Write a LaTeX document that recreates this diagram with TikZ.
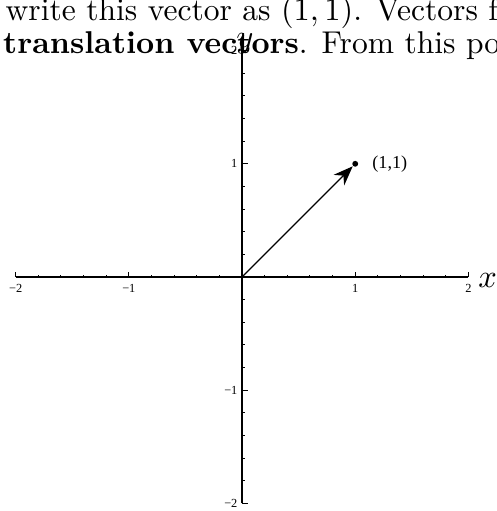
\documentclass[tikz,border=0pt]{standalone}
\usepackage{fontspec}
\newfontfamily\plotfont{Liberation Serif}
\usetikzlibrary{positioning,arrows.meta}

\begin{document}
\begin{tikzpicture}[
    x=1.224cm, y=1.224cm,
    axis/.style={line width=0.35pt},
    tick/.style={line width=0.3pt},
    ticklabel/.style={font=\plotfont\fontsize{3.8}{4}\selectfont, inner sep=0pt},
    axislabel/.style={inner sep=0pt},
    pagetext/.style={anchor=base west, inner sep=0pt, font=\fontsize{9.7}{11}\selectfont},
    vec/.style={line width=0.35pt, -{Stealth[length=6pt,width=4.6pt]}},
    dot/.style={circle, fill, inner sep=0pt, minimum size=1.8pt}
]
\useasboundingbox (-2.138,-2.067) rectangle (2.244,2.447);
\clip (-2.138,-2.067) rectangle (2.244,2.447);
% page text above the plot
\node[pagetext] (line1) at (-2.094,2.27) {write this vector as $(1,1)$. Vectors f};
\node[pagetext] (line2) at (-2.115,1.975) {\textbf{translation vectors}. From this poi};
% axes
\coordinate (O) at (0,0);
\coordinate (xmin) at (-2,0);
\coordinate (xmax) at (2,0);
\coordinate (ymin) at (0,-2);
\coordinate (ymax) at (0,2);
\draw[axis] (xmin) -- (xmax);
\draw[axis] (ymin) -- (ymax);
\foreach \k in {-10,...,10} {
  \draw[tick] (\k/5,0) -- ++(0,0.022);
  \draw[tick] (0,\k/5) -- ++(0.025,0);
}
\foreach \k in {-2,-1,1,2} {
  \draw[tick] (\k,0) -- ++(0,0.045);
  \draw[tick] (0,\k) -- ++(0.05,0);
  \node[ticklabel, anchor=north] (xl\k) at (\k,-0.06) {\ifnum\k<0 −\fi\the\numexpr\ifnum\k<0 -\fi\k\relax};
  \node[ticklabel, anchor=east] (yl\k) at (-0.035,\k) {\ifnum\k<0 −\fi\the\numexpr\ifnum\k<0 -\fi\k\relax};
}
\node[axislabel] (xlab) at (2.17,-0.03) {$x$};
\node[axislabel] (ylab) at (0.025,2.06) {$y$};
% the vector
\node[dot] (P) at (1,1) {};
\draw[vec] (O) -- (P);
\node[right=1.4mm of P, font=\plotfont\fontsize{5.6}{6}\selectfont, inner sep=0pt] (Plab) {(1,1)};
\end{tikzpicture}
\end{document}
